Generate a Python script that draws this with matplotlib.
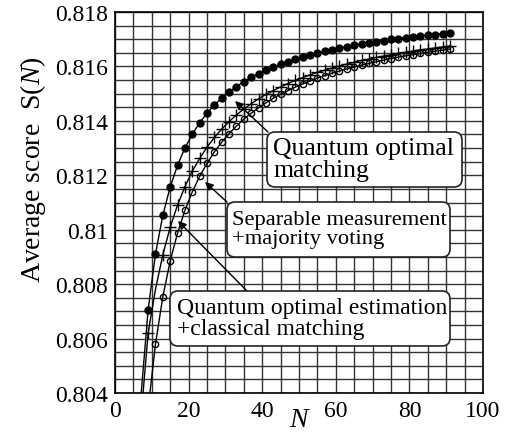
import matplotlib.pyplot as plt
from matplotlib.patches import FancyBboxPatch

plt.rcParams['font.family'] = 'Liberation Serif'
plt.rcParams['mathtext.fontset'] = 'custom'
plt.rcParams['mathtext.rm'] = 'Liberation Serif'
plt.rcParams['mathtext.it'] = 'Liberation Serif:italic'

# N = 7, 9, ..., 91 (points below 0.804 are off the plot)
N = list(range(7, 92, 2))

optimal_matching = [
    0.80380, 0.80706, 0.80911, 0.81053, 0.81157, 0.81237, 0.81300, 0.81351,
    0.81393, 0.81428, 0.81458, 0.81484, 0.81507, 0.81526, 0.81544, 0.81560,
    0.81574, 0.81586, 0.81598, 0.81608, 0.81618, 0.81627, 0.81635, 0.81643,
    0.81649, 0.81656, 0.81662, 0.81668, 0.81673, 0.81678, 0.81683, 0.81687,
    0.81691, 0.81695, 0.81699, 0.81702, 0.81706, 0.81709, 0.81712, 0.81715,
    0.81717, 0.81720, 0.81722]

majority_voting = [
    0.80300, 0.80620, 0.80781, 0.80908, 0.81009, 0.81091, 0.81158, 0.81215,
    0.81262, 0.81303, 0.81339, 0.81370, 0.81397, 0.81422, 0.81443, 0.81463,
    0.81481, 0.81497, 0.81511, 0.81525, 0.81537, 0.81549, 0.81559, 0.81569,
    0.81578, 0.81586, 0.81594, 0.81602, 0.81609, 0.81615, 0.81622, 0.81627,
    0.81633, 0.81638, 0.81643, 0.81648, 0.81652, 0.81657, 0.81661, 0.81664,
    0.81668, 0.81672, 0.81675]
voting_no_marker = [11]

estimation_matching = [
    0.80000, 0.80342, 0.80580, 0.80754, 0.80885, 0.80988, 0.81071, 0.81139,
    0.81196, 0.81244, 0.81286, 0.81322, 0.81353, 0.81381, 0.81406, 0.81428,
    0.81448, 0.81466, 0.81483, 0.81498, 0.81511, 0.81524, 0.81536, 0.81547,
    0.81557, 0.81566, 0.81575, 0.81583, 0.81591, 0.81598, 0.81605, 0.81611,
    0.81617, 0.81623, 0.81629, 0.81634, 0.81639, 0.81643, 0.81648, 0.81652,
    0.81656, 0.81660, 0.81664]

x_ticks = [0, 20, 40, 60, 80, 100]
y_ticks = [0.804, 0.806, 0.808, 0.81, 0.812, 0.814, 0.816, 0.818]

W, H = 508, 439
fig = plt.figure(figsize=(W / 100, H / 100), dpi=100)
ax = fig.add_axes([115 / W, 45 / H, 368 / W, 381 / H])

ax.plot(N, optimal_matching, '-o', color='k', lw=1, ms=5)
voting_marks = [i for i, n in enumerate(N) if n not in voting_no_marker]
ax.plot(N, majority_voting, '-+', color='k', lw=1, ms=8, mew=1,
        markevery=voting_marks)
ax.plot(N, estimation_matching, '-o', color='k', lw=1, ms=4.5,
        mfc='none', mew=1)

ax.set_xlim(0, 100)
ax.set_ylim(0.804, 0.818)
ax.set_xticks(x_ticks)
ax.set_yticks(y_ticks)
ax.set_yticklabels(['%g' % v for v in y_ticks])
ax.set_xticks(range(0, 101, 5), minor=True)
ax.set_yticks([0.804 + 0.0005 * i for i in range(29)], minor=True)
ax.grid(True, which='both', color='#333333', lw=1)
ax.set_axisbelow(True)
ax.tick_params(which='both', length=0, labelsize=17, pad=5,
               labelfontfamily='Liberation Serif')
for lab in ax.get_xticklabels() + ax.get_yticklabels():
    lab.set_fontfamily('Liberation Serif')
for s in ax.spines.values():
    s.set_linewidth(1.2)

fig.text(33 / W, 1 - 170 / H, 'Average score  S($N$)', rotation=90,
         ha='center', va='center', fontsize=20)
fig.text(300 / W, 1 - 421 / H, '$N$', ha='center', va='center', fontsize=20)


def px(x, y):
    return (x, H - y)


# arrows: (tail, tip) in pixel coords from the top-left
arrows = [((268, 133), (235, 102)),
          ((227, 203), (205, 183)),
          ((247, 292), (178, 222))]
for tail, tip in arrows:
    ax.annotate('', xy=px(*tip), xytext=px(*tail),
                xycoords='figure pixels', textcoords='figure pixels',
                arrowprops=dict(arrowstyle='-|>', color='k', lw=1,
                                mutation_scale=12, shrinkA=0, shrinkB=0))

# label boxes: left, top, right, bottom, text left, font size, text
boxes = [(267, 133, 462, 188, 273, 18.5, 'Quantum optimal\nmatching'),
         (227, 203, 450, 258, 232, 16.2,
          'Separable measurement\n+majority voting'),
         (170, 292, 450, 347, 177, 17,
          'Quantum optimal estimation\n+classical matching')]
for x0, y0, x1, y1, tx, fs, label in boxes:
    box = FancyBboxPatch((x0 / 100, (H - y1) / 100), (x1 - x0) / 100,
                         (y1 - y0) / 100,
                         boxstyle='round,pad=0,rounding_size=0.08',
                         transform=fig.dpi_scale_trans, fc='white',
                         ec='#222222', lw=1.2)
    fig.add_artist(box)
    fig.text(tx / W, 1 - (y0 + y1) / 2 / H, label, ha='left', va='center',
             fontsize=fs, linespacing=1.0)

fig.savefig('out.png', dpi=100)
